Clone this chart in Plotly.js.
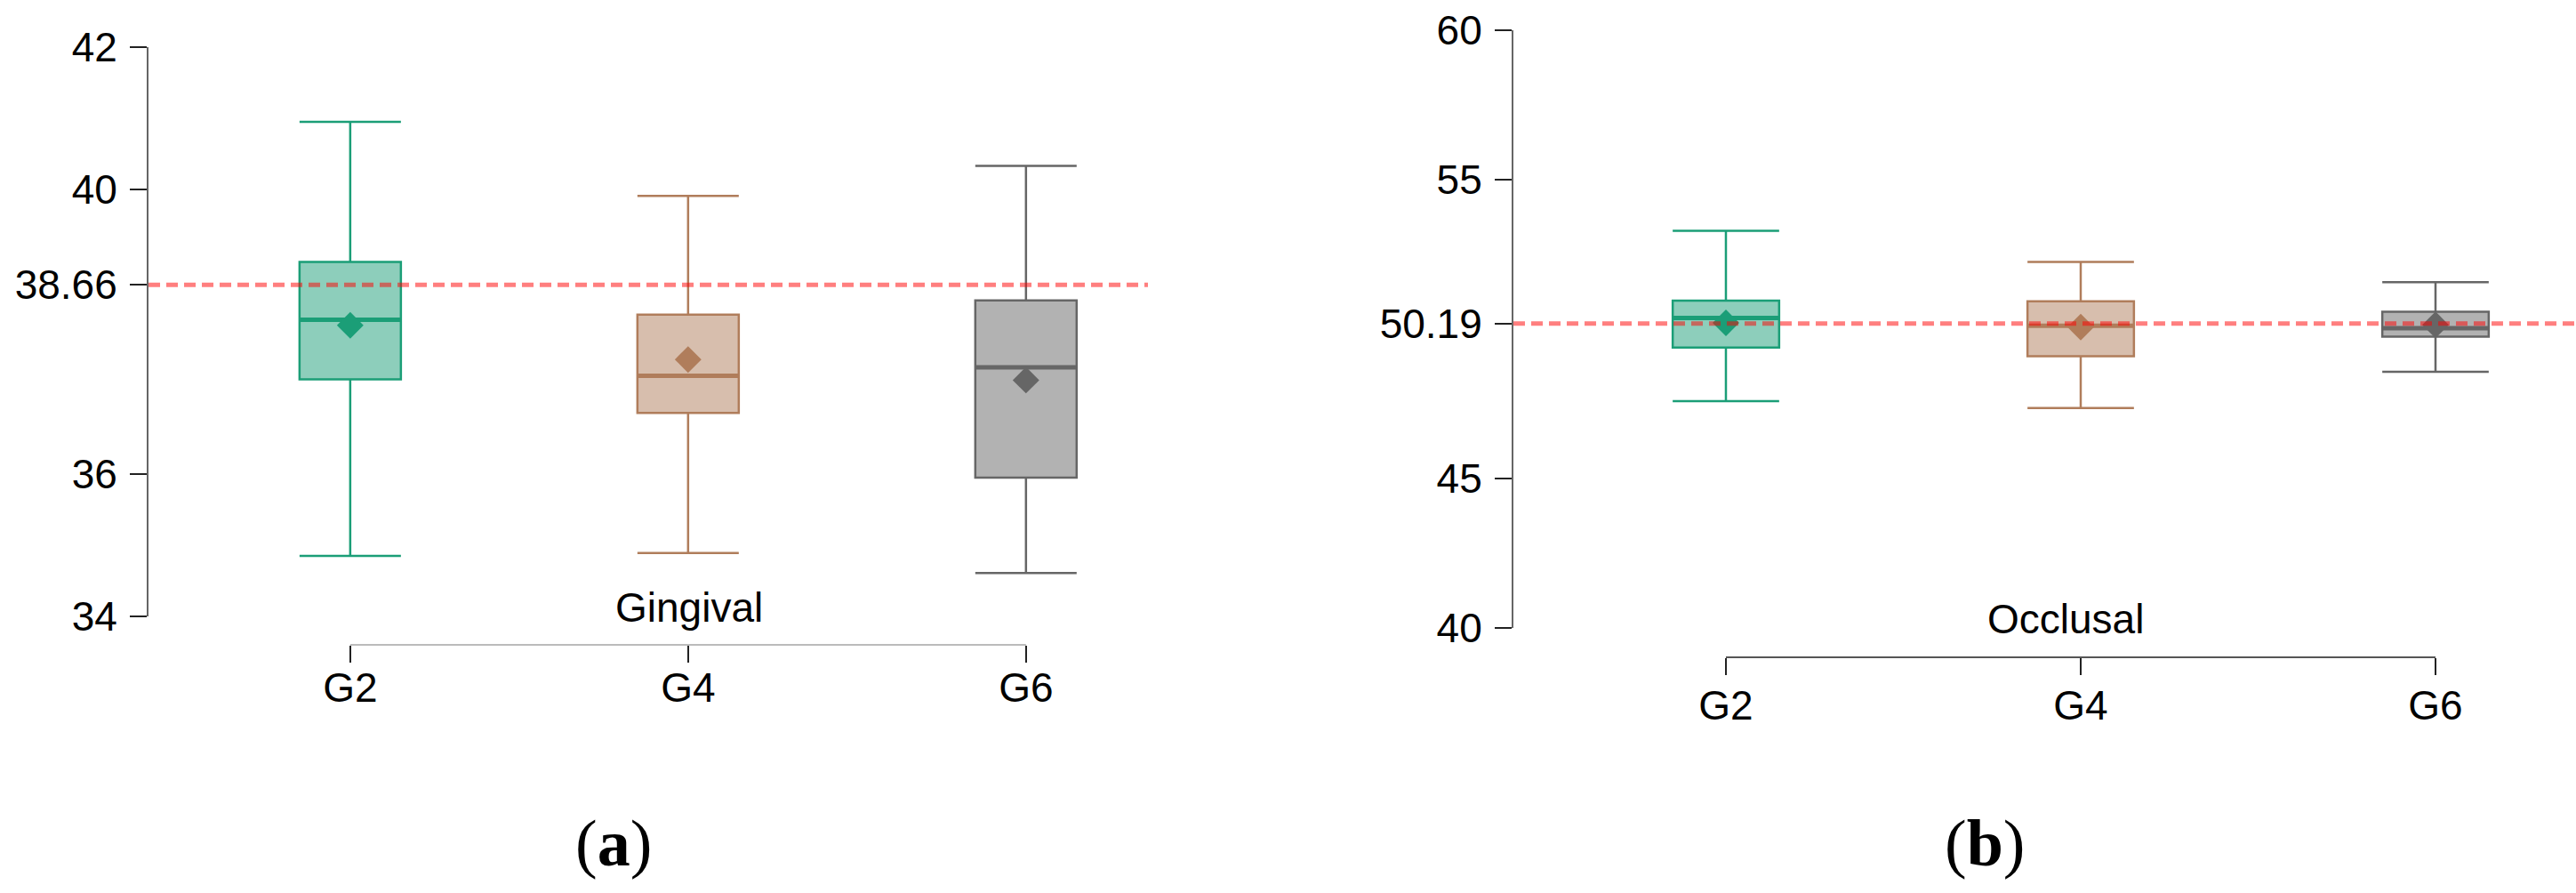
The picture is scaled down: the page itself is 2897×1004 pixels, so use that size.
<!DOCTYPE html>
<html lang="en">
<head>
    <meta charset="UTF-8">
    <title>Gingival / Occlusal</title>
    <script src="https://cdn.plot.ly/plotly-3.0.1.min.js"></script>
    <style>
        body { margin: 0; background: white; }
        #chart { width: 2897px; height: 1004px; }
    </style>
</head>
<body>
    <div id="chart"></div>
    <script>
        // Grupos
        const categories = ['G2', 'G4', 'G6'];

        // Gingival (a)
        const gingUpper  = [40.95, 39.91, 40.33];
        const gingQ3     = [38.98, 38.24, 38.44];
        const gingMedian = [38.17, 37.38, 37.50];
        const gingMean   = [38.09, 37.61, 37.32];
        const gingQ1     = [37.33, 36.86, 35.95];
        const gingLower  = [34.85, 34.89, 34.61];
        const gingRef = 38.66;
        const gingTicks = [34, 36, 38.66, 40, 42];

        // Occlusal (b)
        const occUpper  = [53.29, 52.25, 51.57];
        const occQ3     = [50.95, 50.93, 50.58];
        const occMedian = [50.37, 50.11, 50.03];
        const occMean   = [50.21, 50.07, 50.14];
        const occQ1     = [49.38, 49.09, 49.75];
        const occLower  = [47.59, 47.36, 48.57];
        const occRef = 50.19;
        const occTicks = [40, 45, 50.19, 55, 60];

        const lineColors = ['#1b9e77', '#b07d5b', '#666666'];
        const fillColors = ['rgba(27,158,119,0.5)', 'rgba(176,125,91,0.5)', 'rgba(102,102,102,0.5)'];

        const tickFont = { family: 'Liberation Sans, Arial, sans-serif', size: 46, color: '#000' };

        function panelTraces(stats, xa, ya) {
            const traces = [];
            categories.forEach((c, i) => {
                // caja
                traces.push({
                    type: 'box', x: [c], xaxis: xa, yaxis: ya,
                    q1: [stats.q1[i]], median: [stats.median[i]], q3: [stats.q3[i]],
                    lowerfence: [stats.lower[i]], upperfence: [stats.upper[i]],
                    width: 0.3, whiskerwidth: 1,
                    line: { color: lineColors[i], width: 2.5 },
                    fillcolor: fillColors[i],
                    hoverinfo: 'skip', showlegend: false
                });
                // mediana gruesa
                traces.push({
                    type: 'box', x: [c], xaxis: xa, yaxis: ya,
                    q1: [stats.median[i]], median: [stats.median[i]], q3: [stats.median[i]],
                    lowerfence: [stats.median[i]], upperfence: [stats.median[i]],
                    width: 0.3, whiskerwidth: 1,
                    line: { color: lineColors[i], width: 5 },
                    fillcolor: 'rgba(0,0,0,0)',
                    hoverinfo: 'skip', showlegend: false
                });
            });
            // medias (rombos)
            traces.push({
                type: 'scatter', mode: 'markers', x: categories, y: stats.mean,
                xaxis: xa, yaxis: ya,
                marker: { symbol: 'diamond', size: 23, color: lineColors, line: { width: 0 } },
                hoverinfo: 'skip', showlegend: false
            });
            return traces;
        }

        const data = [
            ...panelTraces({ q1: gingQ1, median: gingMedian, q3: gingQ3, lower: gingLower, upper: gingUpper, mean: gingMean }, 'x', 'y'),
            ...panelTraces({ q1: occQ1, median: occMedian, q3: occQ3, lower: occLower, upper: occUpper, mean: occMean }, 'x2', 'y2')
        ];

        const xBase = {
            type: 'category', anchor: 'free', showline: false, showgrid: false, zeroline: false,
            ticks: 'outside', ticklen: 19, tickwidth: 2, tickcolor: '#222',
            tickfont: tickFont, fixedrange: true
        };
        const yBase = {
            showline: true, linecolor: '#666', linewidth: 2, showgrid: false, zeroline: false,
            ticks: 'outside', ticklen: 19, tickwidth: 2, tickcolor: '#222',
            tickfont: tickFont, ticklabelstandoff: 5, tickmode: 'array', fixedrange: true
        };

        const layout = {
            width: 2897, height: 1004,
            margin: { l: 0, r: 0, t: 0, b: 0 },
            paper_bgcolor: '#fff', plot_bgcolor: '#fff',
            boxmode: 'overlay',
            showlegend: false,
            xaxis: { ...xBase, domain: [0.05765, 0.44563], range: [-0.597, 2.361], position: 0.2779,
                     ticklabelstandoff: -11 },
            yaxis: { ...yBase, anchor: 'x', domain: [0.3098, 0.9472], range: [34, 42],
                     tickvals: gingTicks, ticktext: gingTicks.map(String) },
            xaxis2: { ...xBase, domain: [0.5875, 1], range: [-0.599, 2.396], position: 0.2639,
                      ticklabelstandoff: -5 },
            yaxis2: { ...yBase, anchor: 'x2', domain: [0.2968, 0.9661], range: [40, 60],
                      tickvals: occTicks, ticktext: occTicks.map(String) },
            shapes: [
                // linea de referencia
                { type: 'line', xref: 'paper', yref: 'y', x0: 0.05765, x1: 0.44563, y0: gingRef, y1: gingRef,
                  line: { color: 'rgba(255,0,0,0.5)', width: 5, dash: '13px,7px' }, layer: 'above' },
                { type: 'line', xref: 'paper', yref: 'y2', x0: 0.5875, x1: 1, y0: occRef, y1: occRef,
                  line: { color: 'rgba(255,0,0,0.5)', width: 5, dash: '13px,7px' }, layer: 'above' },
                // ejes x (de G2 a G6)
                { type: 'line', xref: 'x', yref: 'paper', x0: categories[0], x1: categories[2], y0: 0.2779, y1: 0.2779,
                  line: { color: '#bbbbbb', width: 2 } },
                { type: 'line', xref: 'x2', yref: 'paper', x0: categories[0], x1: categories[2], y0: 0.2639, y1: 0.2639,
                  line: { color: '#555555', width: 2 } }
            ],
            annotations: [
                { text: 'Gingival', xref: 'paper', yref: 'paper', x: 0.2675, y: 0.3197,
                  xanchor: 'center', yanchor: 'middle', showarrow: false, font: tickFont },
                { text: 'Occlusal', xref: 'paper', yref: 'paper', x: 0.8019, y: 0.3068,
                  xanchor: 'center', yanchor: 'middle', showarrow: false, font: tickFont },
                { text: '(<b>a</b>)', xref: 'paper', yref: 'paper', x: 0.2382, y: 0.0558,
                  xanchor: 'center', yanchor: 'middle', showarrow: false,
                  font: { family: 'Liberation Serif, Times New Roman, serif', size: 74, color: '#000' } },
                { text: '(<b>b</b>)', xref: 'paper', yref: 'paper', x: 0.7704, y: 0.0558,
                  xanchor: 'center', yanchor: 'middle', showarrow: false,
                  font: { family: 'Liberation Serif, Times New Roman, serif', size: 74, color: '#000' } }
            ]
        };

        Plotly.newPlot('chart', data, layout, { staticPlot: true, displayModeBar: false });
    </script>
</body>
</html>
